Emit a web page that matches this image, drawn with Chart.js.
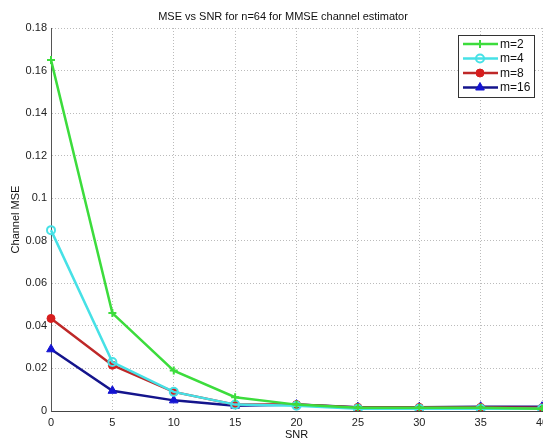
<!DOCTYPE html>
<html>
<head>
<meta charset="utf-8">
<script src="https://cdn.jsdelivr.net/npm/chart.js@4/dist/chart.umd.min.js"></script>
<style>
  body { margin: 0; background: #fff; }
  #wrap { width: 543px; height: 440px; }
</style>
</head>
<body>
<div id="wrap"><canvas id="mseChart" width="543" height="440"></canvas></div>
<script>
const snr = [0, 5, 10, 15, 20, 25, 30, 35, 40];
const m2 = [0.165, 0.046, 0.019, 0.0065, 0.003, 0.0015, 0.0015, 0.0015, 0.001];
const m4 = [0.085, 0.023, 0.009, 0.003, 0.0025, 0.001, 0.001, 0.001, 0.001];
const m8 = [0.0435, 0.0215, 0.009, 0.003, 0.003, 0.0017, 0.0017, 0.0017, 0.0015];
const m16 = [0.029, 0.0095, 0.005, 0.0025, 0.003, 0.0018, 0.0018, 0.002, 0.002];

const FONT = 'Liberation Sans, Arial, sans-serif';
const TITLE = 'MSE vs SNR for n=64 for MMSE channel estimator';

// matlab style title (centred over the original, uncropped figure) and legend inside the plot
const matlabDecor = {
    id: 'matlabDecor',
    afterDraw(chart) {
        const ctx = chart.ctx;
        ctx.save();
        ctx.fillStyle = '#111';
        ctx.font = '11px ' + FONT;
        ctx.textAlign = 'center';
        ctx.textBaseline = 'middle';
        ctx.fillText(TITLE, 283, 17);

        const x0 = 458, y0 = 35, w = 76, h = 62;
        ctx.textAlign = 'left';
        ctx.fillStyle = '#fff';
        ctx.fillRect(x0, y0, w, h);
        ctx.strokeStyle = '#333';
        ctx.lineWidth = 1;
        ctx.strokeRect(x0 + 0.5, y0 + 0.5, w, h);
        chart.data.datasets.forEach(function (ds, i) {
            const y = y0 + 9 + i * 14.5;
            ctx.strokeStyle = ds.borderColor;
            ctx.lineWidth = 2.5;
            ctx.beginPath();
            ctx.moveTo(x0 + 5, y);
            ctx.lineTo(x0 + 40, y);
            ctx.stroke();
            ctx.fillStyle = ds.pointBackgroundColor;
            ctx.strokeStyle = ds.pointBorderColor;
            ctx.lineWidth = ds.pointBorderWidth;
            Chart.helpers.drawPoint(ctx, {
                pointStyle: ds.pointStyle,
                radius: ds.pointRadius,
                borderWidth: ds.pointBorderWidth
            }, x0 + 22, y);
            ctx.fillStyle = '#111';
            ctx.font = '12px ' + FONT;
            ctx.fillText(ds.label, x0 + 42, y + 0.5);
        });
        ctx.restore();
    }
};

const ctx = document.getElementById('mseChart').getContext('2d');
const mseChart = new Chart(ctx, {
    type: 'line',
    data: {
        labels: snr,
        datasets: [{
            label: 'm=2',
            data: m2,
            borderColor: 'rgb(60, 220, 60)',
            pointBackgroundColor: 'rgb(60, 220, 60)',
            pointBorderColor: 'rgb(60, 220, 60)',
            pointStyle: 'cross',
            pointRadius: 4,
            pointBorderWidth: 2
        }, {
            label: 'm=4',
            data: m4,
            borderColor: 'rgb(70, 225, 230)',
            pointBackgroundColor: 'rgba(255, 255, 255, 0)',
            pointBorderColor: 'rgb(70, 225, 230)',
            pointStyle: 'circle',
            pointRadius: 4,
            pointBorderWidth: 2
        }, {
            label: 'm=8',
            data: m8,
            borderColor: 'rgb(190, 40, 40)',
            pointBackgroundColor: 'rgb(215, 30, 30)',
            pointBorderColor: 'rgb(215, 30, 30)',
            pointStyle: 'circle',
            pointRadius: 4,
            pointBorderWidth: 1
        }, {
            label: 'm=16',
            data: m16,
            borderColor: 'rgb(20, 20, 140)',
            pointBackgroundColor: 'rgb(20, 20, 210)',
            pointBorderColor: 'rgb(20, 20, 210)',
            pointStyle: 'triangle',
            pointRadius: 5,
            pointBorderWidth: 1
        }]
    },
    options: {
        responsive: false,
        animation: false,
        elements: {
            line: { borderWidth: 2.5, tension: 0 }
        },
        layout: { autoPadding: false, padding: { left: 0, right: 1, top: 28, bottom: 0 } },
        plugins: {
            legend: { display: false },
            tooltip: { enabled: false },
            title: { display: false }
        },
        scales: {
            x: {
                offset: false,
                grid: {
                    color: '#bbb',
                    drawTicks: false
                },
                border: { display: true, color: '#444', dash: [1, 2] },
                ticks: {
                    color: '#222',
                    font: { family: FONT, size: 11 },
                    padding: 5,
                    maxRotation: 0
                },
                title: {
                    display: true,
                    text: 'SNR',
                    color: '#111',
                    font: { family: FONT, size: 11 },
                    padding: { top: 0, bottom: -2 }
                },
                afterFit: function (scale) {
                    scale.height = 29;
                    scale.paddingRight = 0;
                    scale.paddingLeft = 0;
                }
            },
            y: {
                min: 0,
                max: 0.18,
                ticks: {
                    stepSize: 0.02,
                    color: '#222',
                    font: { family: FONT, size: 11 },
                    padding: 4,
                    callback: function (v) { return String(Number(v.toFixed(2))); }
                },
                grid: {
                    color: '#bbb',
                    drawTicks: false
                },
                border: { display: true, color: '#555', dash: [1, 2] },
                title: {
                    display: true,
                    text: 'Channel MSE',
                    color: '#111',
                    font: { family: FONT, size: 11 },
                    padding: { top: 9, bottom: 0 }
                },
                afterFit: function (scale) {
                    scale.width = 51;
                }
            }
        }
    },
    plugins: [matlabDecor]
});
</script>
</body>
</html>
